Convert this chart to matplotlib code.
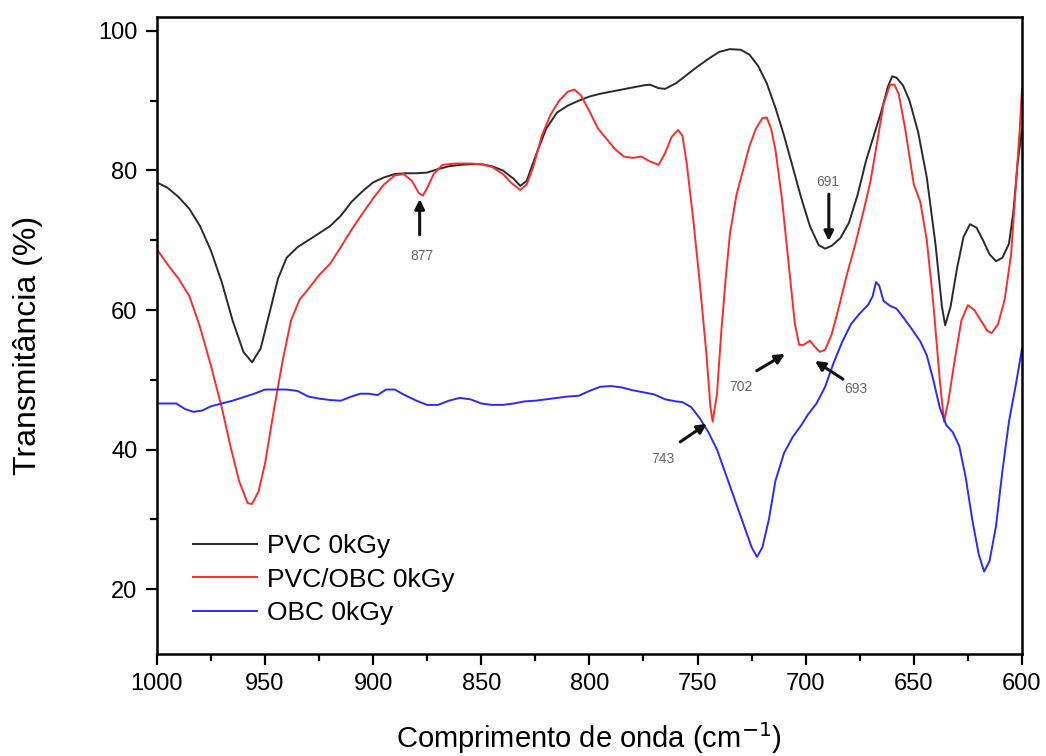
import matplotlib
matplotlib.use('Agg')
import matplotlib.pyplot as plt

plt.rcParams['font.family'] = ['Liberation Sans', 'DejaVu Sans']

# FTIR spectra, transmittance (%) vs wavenumber (cm-1)
pvc_x = [1000, 995, 990, 985, 980, 975, 970, 965, 960, 956, 952, 948, 944, 940, 935, 930, 925, 920,
         915, 910, 905, 900, 895, 890, 885, 880, 875, 870, 865, 860, 855, 850, 845, 840, 835, 832,
         829, 825, 820, 815, 810, 805, 800, 795, 790, 785, 780, 775, 772, 768, 765, 760, 755, 750,
         745, 740, 735, 730, 726, 722, 718, 714, 710, 706, 702, 698, 694, 691, 688, 684, 680, 676,
         672, 668, 665, 662, 660, 658, 655, 652, 648, 644, 640, 637, 635.5, 633, 630, 627, 624, 621,
         618, 615, 612, 609, 606, 604, 602, 600]
pvc_y = [78.3, 77.5, 76.2, 74.5, 72.0, 68.5, 64.0, 58.5, 54.0, 52.5, 54.5, 59.5, 64.5, 67.5, 69.0,
         70.0, 71.0, 72.0, 73.5, 75.5, 77.0, 78.3, 79.0, 79.5, 79.6, 79.6, 79.7, 80.2, 80.6, 80.8,
         80.9, 80.9, 80.6, 80.0, 78.8, 77.8, 78.5, 82.0, 86.0, 88.3, 89.3, 90.0, 90.6, 91.0, 91.3,
         91.6, 91.9, 92.2, 92.3, 91.8, 91.7, 92.5, 93.7, 94.9, 96.0, 97.0, 97.4, 97.3, 96.6, 95.0,
         92.5, 89.0, 85.0, 80.5, 76.0, 72.0, 69.3, 68.8, 69.2, 70.3, 72.5, 76.5, 81.5, 85.5, 88.5,
         92.0, 93.5, 93.3, 92.2, 90.0, 85.5, 79.0, 69.5, 60.5, 57.8, 60.5, 66.0, 70.5, 72.3, 71.8,
         70.0, 68.0, 67.0, 67.5, 69.5, 74.0, 81.0, 86.0]

blend_x = [1000, 995, 990, 985, 980, 975, 970, 966, 962, 958, 956, 953, 950, 946, 942, 938, 934, 930,
           925, 920, 915, 910, 905, 900, 895, 890, 886, 882, 879, 877, 875, 872, 868, 862, 855, 850,
           845, 840, 836, 832, 829, 826, 822, 818, 814, 810, 807, 804, 800, 796, 792, 788, 784, 780,
           776, 772, 768, 765, 762, 759, 757, 755, 752, 749, 746, 744, 743, 741, 739, 737, 735, 732,
           729, 726, 723, 720, 718, 716, 714, 711, 708, 705, 703, 701, 698, 696, 693.5, 691, 688, 685,
           681, 677, 673, 670, 667, 664, 661, 659, 657, 654, 650, 647, 644, 641, 638, 636, 634, 631,
           628, 625, 622, 619, 616, 614, 611, 608, 605, 603, 601, 600]
blend_y = [68.7, 66.5, 64.5, 62.0, 57.5, 52.0, 46.0, 40.5, 35.5, 32.3, 32.2, 34.0, 38.0, 45.5, 52.5,
           58.5, 61.5, 63.0, 65.0, 66.6, 69.0, 71.5, 73.8, 76.0, 78.0, 79.3, 79.5, 78.5, 76.8, 76.4,
           77.5, 79.5, 80.8, 81.0, 81.0, 80.9, 80.5, 79.5, 78.2, 77.2, 78.0, 80.5, 85.0, 88.0, 90.0,
           91.3, 91.6, 90.8, 88.5, 86.0, 84.5, 83.0, 82.0, 81.8, 82.0, 81.3, 80.8, 82.5, 84.8, 85.8,
           85.0, 81.0, 73.0, 64.0, 54.0, 46.0, 44.0, 48.0, 57.0, 64.5, 71.0, 76.5, 80.0, 83.5, 86.0,
           87.5, 87.6, 86.0, 83.0, 76.0, 67.0, 58.0, 55.0, 55.0, 55.6, 54.8, 54.0, 54.3, 56.5, 60.0,
           65.0, 69.5, 74.5, 78.5, 84.0, 89.5, 92.3, 92.3, 91.0, 86.0, 78.0, 75.5, 70.0, 61.0, 50.0,
           44.0, 47.0, 53.0, 58.5, 60.7, 60.0, 58.5, 57.0, 56.7, 58.0, 61.5, 68.0, 77.0, 86.0, 91.7]

obc_x = [1000, 995, 991, 987, 983, 979, 975, 970, 965, 960, 955, 950, 945, 940, 935, 930, 925, 920,
         915, 910, 906, 902, 898, 894, 890, 886, 880, 875, 870, 865, 860, 855, 850, 845, 840, 835,
         830, 825, 820, 815, 810, 805, 800, 795, 790, 785, 780, 775, 770, 765, 760, 757, 753, 749,
         745, 741, 737, 733, 729, 725, 722.5, 720, 717, 714, 710, 706, 702, 699, 695, 691, 687, 683,
         679, 675, 671, 669, 667.5, 666, 664, 661, 658, 655, 651, 647, 644, 641, 638, 635, 632, 629,
         626, 623, 620, 617.5, 615, 612, 609, 606, 603, 600]
obc_y = [46.6, 46.6, 46.6, 45.8, 45.4, 45.6, 46.2, 46.6, 47.0, 47.5, 48.0, 48.6, 48.6, 48.6, 48.4,
         47.6, 47.3, 47.1, 47.0, 47.6, 48.0, 48.0, 47.8, 48.6, 48.6, 47.9, 47.0, 46.4, 46.4, 47.0,
         47.4, 47.2, 46.6, 46.4, 46.4, 46.6, 46.9, 47.0, 47.2, 47.4, 47.6, 47.7, 48.4, 49.0, 49.1,
         48.9, 48.5, 48.2, 47.9, 47.2, 46.9, 46.8, 46.1, 44.5, 42.5, 40.0, 36.5, 33.0, 29.5, 26.0,
         24.6, 26.0, 30.0, 35.5, 39.5, 41.8, 43.5, 45.0, 46.6, 49.0, 52.5, 55.5, 58.0, 59.5, 60.8,
         62.0, 64.0, 63.5, 61.3, 60.6, 60.2, 59.0, 57.3, 55.5, 53.5, 50.0, 46.0, 43.5, 42.5, 40.5,
         36.0, 30.0, 25.0, 22.5, 24.0, 29.0, 37.0, 44.0, 49.0, 54.4]

# band labels: text, text position, arrow tail, arrow head
band_labels = ['877', '691', '702', '693', '743']
band_text_xy = [(877.5, 67.7), (690, 78.3), (730, 49.0), (677, 48.7), (766, 38.7)]
band_tail_xy = [(878.5, 70.8), (689.3, 76.6), (722.6, 51.3), (682.8, 50.1), (758, 41.1)]
band_head_xy = [(878.5, 75.9), (689.3, 69.9), (709.6, 53.7), (695.7, 52.7), (745.7, 43.7)]

fig = plt.figure(figsize=(10.46, 7.56), dpi=100)
ax = fig.add_axes([0.150, 0.135, 0.827, 0.8425])

ax.plot(pvc_x, pvc_y, color='#2a2a2a', lw=1.4, label='PVC 0kGy')
ax.plot(blend_x, blend_y, color='#ff2a2a', lw=1.4, label='PVC/OBC 0kGy')
ax.plot(obc_x, obc_y, color='#2a2aff', lw=1.4, label='OBC 0kGy')

for lab, txy, tail, head in zip(band_labels, band_text_xy, band_tail_xy, band_head_xy):
    ax.annotate('', xy=head, xytext=tail,
                arrowprops=dict(arrowstyle='-|>', color='#111111', lw=2.2,
                                mutation_scale=14, shrinkA=0, shrinkB=0))
    ax.text(txy[0], txy[1], lab, color='#666666', fontsize=10,
            ha='center', va='center')

ax.set_xlim(1000, 600)
ax.set_ylim(10.7, 102)
ax.set_xticks([1000, 950, 900, 850, 800, 750, 700, 650, 600])
ax.set_xticks([975, 925, 875, 825, 775, 725, 675, 625], minor=True)
ax.set_yticks([20, 40, 60, 80, 100])
ax.set_yticks([30, 50, 70, 90], minor=True)
ax.tick_params(which='both', direction='out', width=1.6, labelsize=17, top=False, right=False)
ax.tick_params(which='major', length=8, pad=6)
ax.tick_params(which='minor', length=5)
for s in ax.spines.values():
    s.set_linewidth(1.8)

ax.set_xlabel('Comprimento de onda (cm$^{-1}$)', fontsize=21)
ax.set_ylabel('Transmitância (%)', fontsize=23)
ax.xaxis.set_label_coords(0.5, -0.104)
ax.yaxis.set_label_coords(-0.132, 0.485)

ax.legend(loc='lower left', bbox_to_anchor=(0.0145, 0.008), frameon=False, fontsize=19,
          handlelength=2.4, labelspacing=0.36, handletextpad=0.4)

fig.savefig('out.png', dpi=100)
